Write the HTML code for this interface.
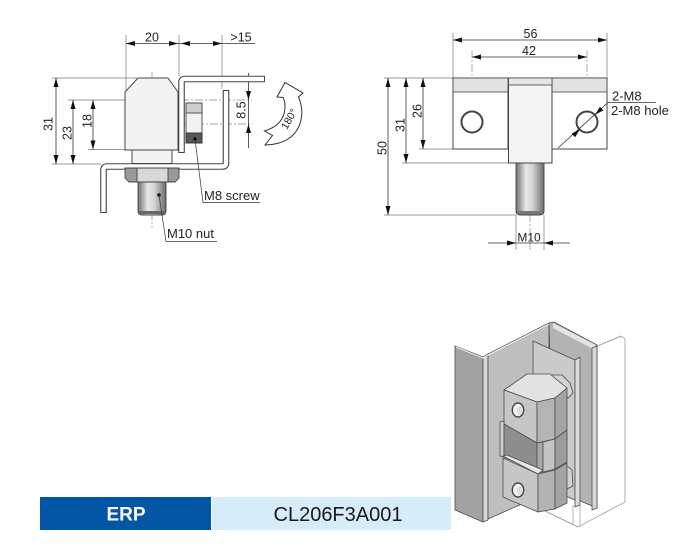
<!DOCTYPE html>
<html><head><meta charset="utf-8"><style>
html,body{margin:0;padding:0;background:#fff;}
svg{display:block;}
text{font-family:"Liberation Sans",Arial,sans-serif;fill:#222;}
</style></head><body>
<svg width="700" height="555" viewBox="0 0 700 555" xmlns="http://www.w3.org/2000/svg">
<defs>
<linearGradient id="shaft" x1="0" x2="1" y1="0" y2="0">
<stop offset="0" stop-color="#6e6e6e"/>
<stop offset="0.35" stop-color="#e8e8e8"/>
<stop offset="0.6" stop-color="#d2d2d2"/>
<stop offset="1" stop-color="#6a6a6a"/>
</linearGradient>
</defs>
<rect width="700" height="555" fill="#fff"/>

<!-- ============ LEFT DRAWING ============ -->
<g stroke="#7a7a7a" stroke-width="0.7" fill="none">
<path d="M126,35 V90 M179,35 V76 M222,35 V89 M52,78 H137 M68,100 H125 M88,149.5 H125 M52,164 H101"/>
</g>
<g stroke="#8a8a8a" stroke-width="0.7" fill="none" stroke-dasharray="8 2 2 2">
<path d="M125,100 H252 M168,124 H253 M152,72 V228"/>
</g>
<g stroke="#333" stroke-width="0.8" fill="none">
<path d="M126,43.5 H255 M56,78 V164 M73,100 V164 M93,100 V149.5 M248.5,73 V148"/>
</g>
<g fill="#111">
<polygon points="126,43.5 135,41 135,46"/>
<polygon points="178,43.5 169,41 169,46"/>
<polygon points="181,43.5 190,41 190,46"/>
<polygon points="222,43.5 213,41 213,46"/>
<polygon points="56,78 53.5,87 58.5,87"/>
<polygon points="56,164 53.5,155 58.5,155"/>
<polygon points="73,100 70.5,109 75.5,109"/>
<polygon points="73,164 70.5,155 75.5,155"/>
<polygon points="93,100 90.5,109 95.5,109"/>
<polygon points="93,149.5 90.5,140.5 95.5,140.5"/>
<polygon points="248.5,100 246,91 251,91"/>
<polygon points="248.5,124 246,133 251,133"/>
</g>
<text x="152" y="41.5" font-size="12.5" text-anchor="middle">20</text>
<text x="241" y="41.5" font-size="12.5" text-anchor="middle">&gt;15</text>
<text transform="translate(48,124) rotate(-90)" dy="4.4" font-size="12.5" text-anchor="middle">31</text>
<text transform="translate(67,133) rotate(-90)" dy="4.4" font-size="12.5" text-anchor="middle">23</text>
<text transform="translate(87,121) rotate(-90)" dy="4.4" font-size="12.5" text-anchor="middle">18</text>
<text transform="translate(241,110) rotate(-90)" dy="4.4" font-size="12.5" text-anchor="middle">8.5</text>

<!-- brackets -->
<path d="M103.5,213 V170 Q103.5,166.5 107,166.5 H222.5 Q226,166.5 226,163 V90" stroke="#444" stroke-width="6.6" fill="none"/>
<path d="M103.5,212 V170 Q103.5,166.5 107,166.5 H222.5 Q226,166.5 226,163 V91" stroke="#fff" stroke-width="4.4" fill="none"/>
<path d="M181.5,153 V82.5 Q181.5,79 185,79 H265" stroke="#444" stroke-width="6.6" fill="none"/>
<path d="M181.5,152 V82.5 Q181.5,79 185,79 H264" stroke="#fff" stroke-width="4.4" fill="none"/>

<!-- head -->
<path d="M125,150 V92 L138,78 H168 L178,92 V150 Z" fill="#f3f3f3" stroke="#444" stroke-width="1"/>
<rect x="132" y="150" width="40" height="13.5" fill="#f3f3f3" stroke="#444" stroke-width="1"/>
<!-- nut -->
<polygon points="125,168 137,168 137,182 129,182 125,178" fill="#999"/>
<polygon points="137,168 168,168 168,182 137,182" fill="#d8d8d8"/>
<polygon points="168,168 179,168 179,178 175,182 168,182" fill="#999"/>
<path d="M125,168 H179 V178 L175,182 H129 L125,178 Z M137,168 V182 M168,168 V182" fill="none" stroke="#444" stroke-width="0.9"/>
<!-- shaft -->
<path d="M138,182 V211 Q138,215 142,215 H162 Q166,215 166,211 V182 Z" fill="url(#shaft)" stroke="#444" stroke-width="0.9"/>
<rect x="139" y="211" width="26" height="3" fill="#666"/>
<circle cx="159" cy="195" r="1.8" fill="#111"/>
<!-- M8 screw -->
<rect x="186" y="103" width="16" height="40" fill="#f2f2f2" stroke="#444" stroke-width="0.9"/>
<rect x="186" y="103" width="16" height="10" fill="#cfcfcf" stroke="#444" stroke-width="0.9"/>
<rect x="186" y="133" width="16" height="10" fill="#585858" stroke="#333" stroke-width="0.9"/>
<circle cx="195" cy="139" r="1.6" fill="#000"/>
<!-- leaders -->
<path d="M159,195 L166,241.5 H217 M195,139 L203,202.5 H260" stroke="#333" stroke-width="0.7" fill="none"/>
<text x="167" y="238" font-size="13">M10 nut</text>
<text x="204" y="200" font-size="13">M8 screw</text>

<!-- 180 arrow -->
<path d="M277,97 L285,82.5 L303,93 L298.5,97 C305,112 302,130 288,139 C282,143 273,145 265,145 L272.5,135.5 L264.5,131 C274,128 282,123 284.5,112 C285.5,106 285,101 283,97.5 Z" fill="#fff" stroke="#333" stroke-width="1"/>
<text transform="translate(289,119) rotate(-60)" dy="3.6" font-size="10.5" text-anchor="middle">180°</text>

<!-- ============ RIGHT DRAWING ============ -->
<g stroke="#7a7a7a" stroke-width="0.7" fill="none">
<path d="M453,33 V78 M607,33 V78 M384,78 H453 M419,149 H453 M402,163 H508 M384,215 H516 M516,215 V250 M544,215 V250"/>
</g>
<g stroke="#8a8a8a" stroke-width="0.7" fill="none" stroke-dasharray="8 2 2 2">
<path d="M472,50 V143 M587,50 V143 M457,122 H488 M572,122 H603 M530,158 V250"/>
</g>
<rect x="453" y="78" width="55" height="71" fill="#fff" stroke="#444" stroke-width="1"/>
<rect x="453" y="78" width="55" height="14" fill="#e2e2e2" stroke="#444" stroke-width="0.8"/>
<rect x="552" y="78" width="55" height="71" fill="#fff" stroke="#444" stroke-width="1"/>
<rect x="552" y="78" width="55" height="14" fill="#e2e2e2" stroke="#444" stroke-width="0.8"/>
<rect x="508.5" y="78" width="43.5" height="85" fill="#f4f4f4" stroke="#444" stroke-width="1"/>
<rect x="508.5" y="78" width="43.5" height="7" fill="#e6e6e6" stroke="#444" stroke-width="0.8"/>
<circle cx="472" cy="122" r="10.5" fill="none" stroke="#444" stroke-width="2"/>
<circle cx="587" cy="122" r="10.5" fill="none" stroke="#444" stroke-width="2"/>
<path d="M516,163 V211 Q516,215 520,215 H540 Q544,215 544,211 V163 Z" fill="url(#shaft)" stroke="#444" stroke-width="0.9"/>
<rect x="517" y="211" width="26" height="3.5" fill="#777"/>
<g stroke="#333" stroke-width="0.8" fill="none">
<path d="M453,40 H607 M472,57 H587 M388,78 V215 M406,78 V163 M423,78 V149 M488,243 H570 M558,148 L608,102.5 H656"/>
</g>
<g fill="#111">
<polygon points="453,40 462,37.5 462,42.5"/>
<polygon points="607,40 598,37.5 598,42.5"/>
<polygon points="472,57 481,54.5 481,59.5"/>
<polygon points="587,57 578,54.5 578,59.5"/>
<polygon points="388,78 385.5,87 390.5,87"/>
<polygon points="388,215 385.5,206 390.5,206"/>
<polygon points="406,78 403.5,87 408.5,87"/>
<polygon points="406,163 403.5,154 408.5,154"/>
<polygon points="423,78 420.5,87 425.5,87"/>
<polygon points="423,149 420.5,140 425.5,140"/>
<polygon points="516,243 507,240.5 507,245.5"/>
<polygon points="544,243 553,240.5 553,245.5"/>
<polygon points="595.1,114.8 603.3,110.4 599.9,106.8"/>
<polygon points="579.9,129.2 575.1,137.2 571.7,133.6"/>
</g>
<text x="530.5" y="38" font-size="12.5" text-anchor="middle">56</text>
<text x="529" y="55" font-size="12.5" text-anchor="middle">42</text>
<text transform="translate(382,148) rotate(-90)" dy="4.4" font-size="12.5" text-anchor="middle">50</text>
<text transform="translate(400,125) rotate(-90)" dy="4.4" font-size="12.5" text-anchor="middle">31</text>
<text transform="translate(417,111) rotate(-90)" dy="4.4" font-size="12.5" text-anchor="middle">26</text>
<text x="529" y="241.5" font-size="12" text-anchor="middle">M10</text>
<text x="612" y="100.5" font-size="13">2-M8</text>
<text x="611" y="115" font-size="13">2-M8 hole</text>

<!-- ============ BOTTOM BAR ============ -->
<rect x="40" y="497" width="171" height="33" fill="#0356a6"/>
<rect x="212" y="497" width="239" height="33" fill="#d6ecf9"/>
<text x="126" y="520.5" font-size="19" font-weight="bold" text-anchor="middle" style="fill:#fff">ERP</text>
<text x="338" y="521" font-size="20" text-anchor="middle" style="fill:#1a1a1a">CL206F3A001</text>

<!-- ============ 3D RENDER ============ -->
<g stroke="#4d4d4d" stroke-width="0.8" stroke-linejoin="round">
<polygon points="595,347 621,336 625,339 625,502 578,527 545,511" fill="#fff" stroke="#8a8a8a" stroke-width="0.7"/>
<path d="M573,505 V525 M580,505 V527" stroke="#999" stroke-width="0.7" fill="none"/>
<polygon points="455,346 483,357 483,522 455,510" fill="#a2a2a2"/>
<polygon points="483,357 488,354 488,520 483,522" fill="#d6d6d6"/>
<polygon points="488,354 549,323 549,492 488,519" fill="#bebebe"/>
<polygon points="549,323 554,322 597,345 597,508 554,490" fill="#b3b3b3"/>
<polygon points="553,323 596,345 593,349 553,328" fill="#e4e4e4" stroke="none"/>
<polygon points="533,341 575,360 575,500 533,482" fill="#cacaca"/>
<polygon points="575,360 580,357 580,505 575,507" fill="#dadada"/>
<polygon points="592,348 597,346 597,508 592,510" fill="#d8d8d8"/>
<path d="M456,347 L483,358 L488,355 L549,324" stroke="#eee" stroke-width="1.2" fill="none"/>
<!-- small nuts -->
<polygon points="548,375 562,375 570,383 573,393 568,398 560,388" fill="#d4d4d4"/>
<polygon points="566,465 572,470 573,486 567,489" fill="#d0d0d0"/>
<!-- upper leaf -->
<polygon points="504,390 527,374 550,374 567,388 555,398 537,402" fill="#e2e2e2"/>
<polygon points="504,390 537,402 537,443 504,424" fill="#c6c6c6"/>
<polygon points="537,402 555,398 555,439 537,443" fill="#b4b4b4"/>
<polygon points="555,398 567,388 567,430 555,439" fill="#a4a4a4"/>
<ellipse cx="518" cy="410" rx="5.7" ry="7" fill="#f4f4f4" stroke="#444" stroke-width="1.4"/>
<ellipse cx="519.5" cy="411" rx="3" ry="4.2" fill="#dcdcdc" stroke="none"/>
<!-- middle knuckle -->
<polygon points="500,422 504,421 504,457 500,456" fill="#cfcfcf"/>
<polygon points="504,424 537,443 537,472 504,457" fill="#8e8e8e"/>
<polygon points="537,443 543,442 543,472 537,473" fill="#a8a8a8"/>
<polygon points="543,442 555,439 555,469 543,472" fill="#c4c4c4"/>
<polygon points="555,439 567,430 567,462 555,469" fill="#9c9c9c"/>
<!-- lower leaf -->
<polygon points="503,456 507,455 543,470 538,474" fill="#e6e6e6"/>
<polygon points="503,458 538,474 538,512 503,497" fill="#c6c6c6"/>
<polygon points="538,474 555,470 555,509 538,512" fill="#b2b2b2"/>
<polygon points="555,470 567,463 567,503 555,509" fill="#a4a4a4"/>
<ellipse cx="518" cy="490" rx="5.7" ry="7" fill="#f4f4f4" stroke="#444" stroke-width="1.4"/>
<ellipse cx="519.5" cy="491" rx="3" ry="4.2" fill="#dcdcdc" stroke="none"/>
</g>
</svg>
</body></html>
